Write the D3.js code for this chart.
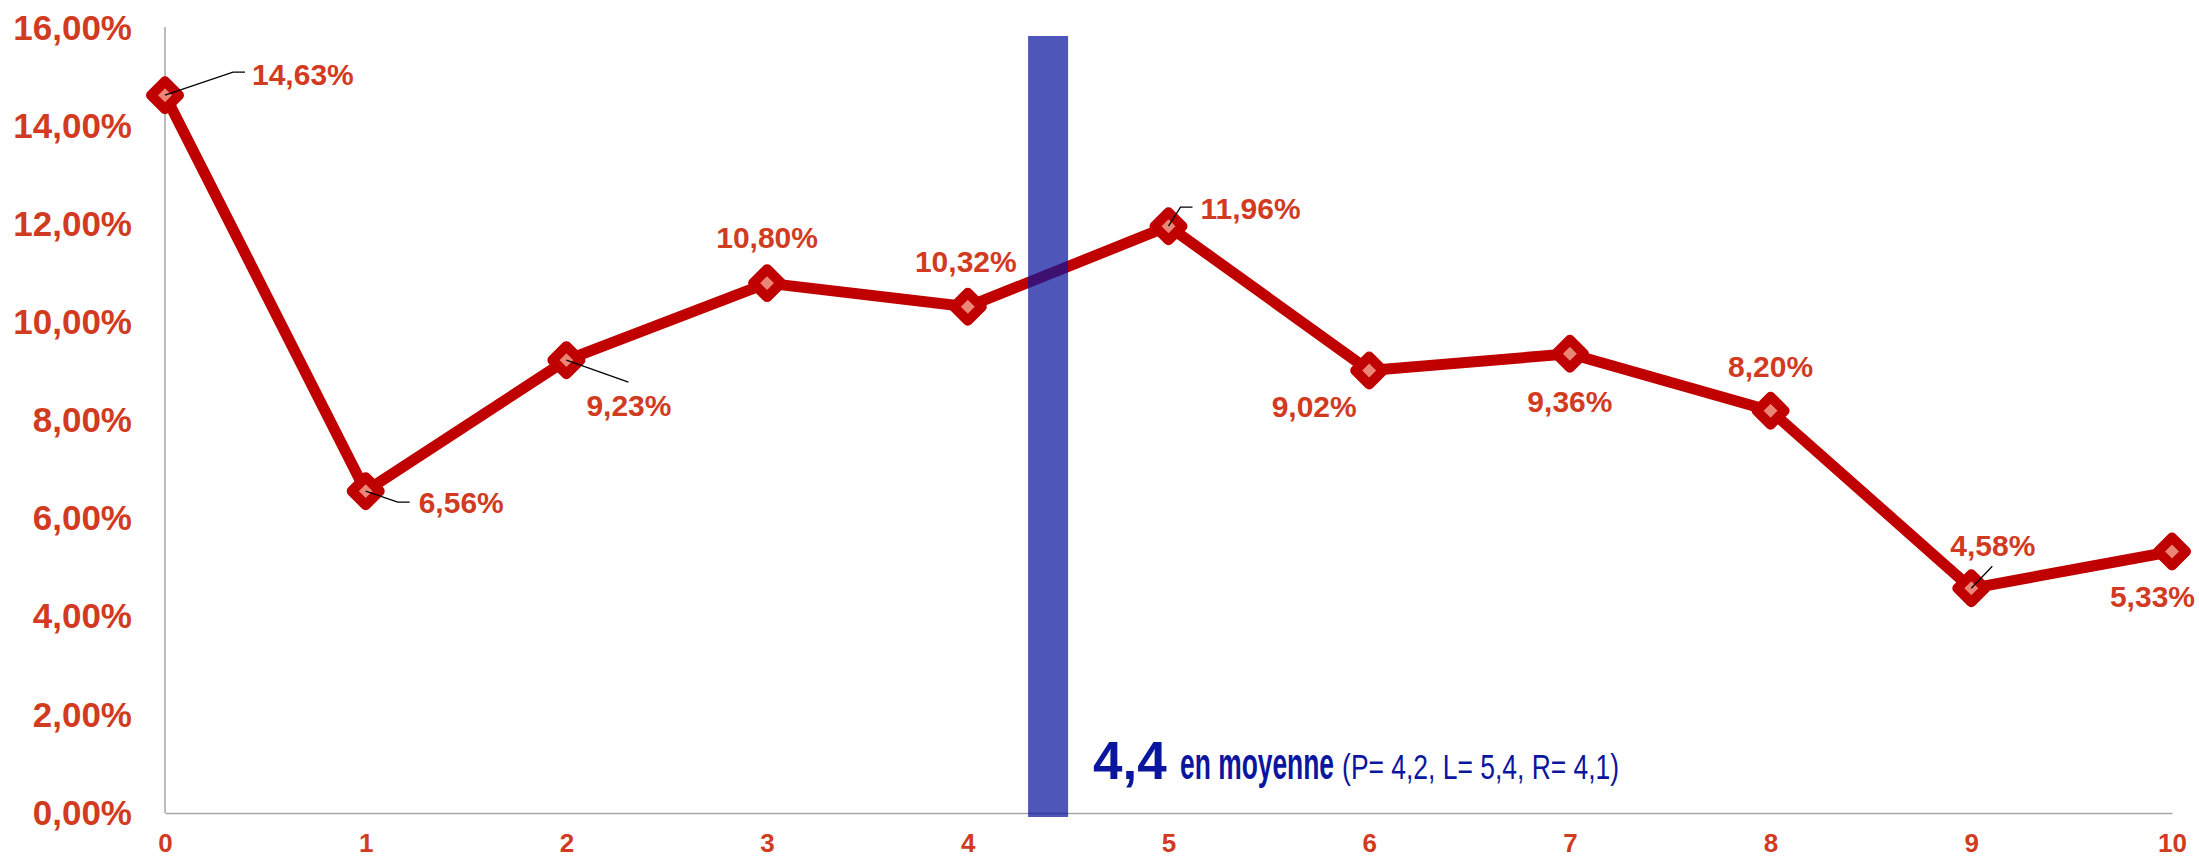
<!DOCTYPE html>
<html>
<head>
<meta charset="utf-8">
<script src="https://cdn.jsdelivr.net/npm/d3@7"></script>
<style>
  html, body { margin: 0; padding: 0; background: #ffffff; }
  svg { display: block; }
</style>
</head>
<body>
<svg id="chart" width="2199" height="859"></svg>
<script>
// ---- data ----
const categories = [0, 1, 2, 3, 4, 5, 6, 7, 8, 9, 10];
const shares = [14.63, 6.56, 9.23, 10.80, 10.32, 11.96, 9.02, 9.36, 8.20, 4.58, 5.33];
const yTicks = [0, 2, 4, 6, 8, 10, 12, 14, 16];
const meanValue = 4.4;
const meanText = "4,4";
const meanWord = "en moyenne";
const meanDetail = "(P= 4,2, L= 5,4, R= 4,1)";

// ---- label layout (offsets from each point, in px) ----
const labelDx = [87, 53, 20, 0, -2, 32, -55, 0, 0, -21, 23];
const labelDy = [-10, 22, 56, -35, -35, -7, 47, 58, -34, -32, 56];
const labelAnchor = ["start", "start", "start", "middle", "middle", "start", "middle", "middle", "middle", "start", "end"];
const leaders = [
  [[0, 0], [68, -23], [80, -23]],
  [[0, 0], [32, 11], [44, 11]],
  [[0, 0], [62, 22]],
  null, null,
  [[0, 0], [12, -19], [24, -19]],
  null, null, null,
  [[0, 0], [21, -22]],
  null
];

// ---- styles ----
const RED = "#C00000";
const LABEL = "#D13B1F";
const SALMON = "#EB8676";
const BLUE = "#0A169E";
const FONT = "'Liberation Sans', Arial, sans-serif";

const svg = d3.select("#chart");
const x = d3.scaleLinear().domain([0, 10]).range([165, 2172]);
const y = d3.scaleLinear().domain([0, 16]).range([813, 28]);

const locale = d3.formatLocale({decimal: ",", thousands: " ", grouping: [3], currency: ["", " €"]});
const fmt2 = locale.format(".2f");

// y axis
const gy = svg.append("g").attr("transform", `translate(${x(0)},0)`)
  .call(d3.axisLeft(y).tickValues(yTicks).tickSize(0).tickPadding(33).tickFormat(d => fmt2(d) + "%"));
gy.select(".domain").attr("stroke", "#A6A6A6").attr("stroke-width", 1.5).attr("d", `M0,${y(0)}V27`);
gy.selectAll("text").attr("font-family", FONT).attr("font-weight", "bold")
  .attr("font-size", 35).attr("fill", LABEL);

// x axis
const gx = svg.append("g").attr("transform", `translate(0,${y(0)})`)
  .call(d3.axisBottom(x).tickValues(categories).tickSize(0).tickPadding(21).tickFormat(d3.format("d")));
gx.select(".domain").attr("stroke", "#A6A6A6").attr("stroke-width", 1.5);
gx.selectAll("text").attr("font-family", FONT).attr("font-weight", "bold")
  .attr("font-size", 26).attr("fill", LABEL);

// line
const line = d3.line().x((d, i) => x(categories[i])).y(d => y(d));
svg.append("path").datum(shares)
  .attr("d", line).attr("fill", "none").attr("stroke", RED)
  .attr("stroke-width", 11).attr("stroke-linejoin", "round");

// markers (rounded diamonds)
const r = 14;
svg.append("g").selectAll("path").data(shares).join("path")
  .attr("d", (d, i) => {
    const cx = x(categories[i]), cy = y(d);
    return `M${cx},${cy - r}L${cx + r},${cy}L${cx},${cy + r}L${cx - r},${cy}Z`;
  })
  .attr("fill", SALMON).attr("stroke", RED).attr("stroke-width", 10).attr("stroke-linejoin", "round");

// leader lines
svg.append("g").selectAll("path").data(shares.map((d, i) => ({d, i})).filter(o => leaders[o.i]))
  .join("path")
  .attr("d", o => {
    const cx = x(categories[o.i]), cy = y(o.d);
    return "M" + leaders[o.i].map(p => `${cx + p[0]},${cy + p[1]}`).join("L");
  })
  .attr("fill", "none").attr("stroke", "#000").attr("stroke-width", 1.3);

// mean bar (on top of line, translucent)
const barW = 40;
svg.append("rect")
  .attr("x", x(meanValue) - barW / 2).attr("width", barW)
  .attr("y", 36).attr("height", y(0) + 4 - 36)
  .attr("fill", BLUE).attr("fill-opacity", 0.72);

// data labels
svg.append("g").selectAll("text").data(shares).join("text")
  .attr("x", (d, i) => x(categories[i]) + labelDx[i])
  .attr("y", (d, i) => y(d) + labelDy[i])
  .attr("text-anchor", (d, i) => labelAnchor[i])
  .attr("font-family", FONT).attr("font-weight", "bold").attr("font-size", 30)
  .attr("fill", LABEL)
  .text(d => fmt2(d) + "%");

// mean annotation (condensed parts via horizontal scaling)
const annX = x(meanValue) + barW / 2 + 25;
const annY = 779;
svg.append("text").attr("x", annX).attr("y", annY)
  .attr("font-family", FONT).attr("font-weight", "bold").attr("font-size", 53)
  .attr("fill", BLUE).text(meanText);

function condensed(str, x0, width, size, weight) {
  const t = svg.append("text").attr("x", 0).attr("y", 0)
    .attr("font-family", FONT).attr("font-weight", weight).attr("font-size", size)
    .attr("fill", BLUE).text(str);
  const w = t.node().getComputedTextLength();
  t.attr("transform", `translate(${x0},${annY}) scale(${width / w},1)`);
}
condensed(meanWord, annX + 87, 154, 44, "bold");
condensed(meanDetail, annX + 249, 277, 36, "normal");
</script>
</body>
</html>
